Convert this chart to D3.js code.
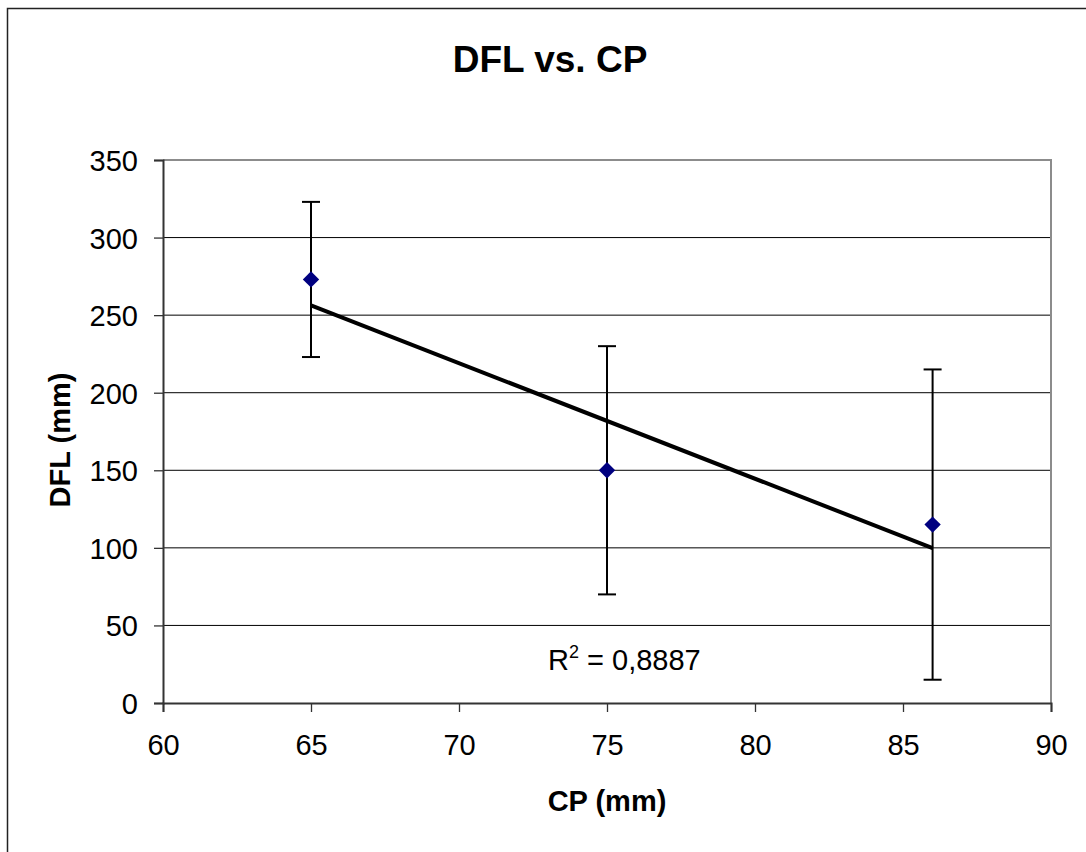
<!DOCTYPE html>
<html>
<head>
<meta charset="utf-8">
<script src="https://cdn.jsdelivr.net/npm/d3@7"></script>
<style>
  body { margin: 0; background: #fff; }
  text { font-family: "Liberation Sans", Arial, sans-serif; fill: #000; }
</style>
</head>
<body>
<svg id="chart" width="1086" height="852"></svg>
<script>
// data
const cp = [65, 75, 86];
const dfl = [273, 150, 115];
const errPlus = [50, 80, 100];
const errMinus = [50, 80, 100];
const xTicks = [60, 65, 70, 75, 80, 85, 90];
const yTicks = [0, 50, 100, 150, 200, 250, 300, 350];
const rSquaredLabel = "0,8887";

const svg = d3.select("#chart");

// outer chart frame (runs off the right/bottom edges)
svg.append("rect")
    .attr("x", 7.5).attr("y", 8.5)
    .attr("width", 1100).attr("height", 900)
    .attr("fill", "white")
    .attr("stroke", "#222").attr("stroke-width", 1.5);

const plotL = 163, plotR = 1051, plotT = 160, plotB = 703;

const x = d3.scaleLinear().domain([60, 90]).range([plotL, plotR]);
const y = d3.scaleLinear().domain([0, 350]).range([plotB, plotT]);

// gridlines
svg.append("g")
    .selectAll("line")
    .data(yTicks.filter(d => d > 0 && d < 350))
    .enter()
    .append("line")
    .attr("x1", plotL).attr("x2", plotR)
    .attr("y1", d => y(d)).attr("y2", d => y(d))
    .attr("stroke", "#000").attr("stroke-width", 1);

// plot area border top/right (grey)
svg.append("path")
    .attr("d", `M${plotL},${plotT}H${plotR}V${plotB}`)
    .attr("fill", "none")
    .attr("stroke", "#8c8c8c").attr("stroke-width", 2);

// axes
const xAxis = svg.append("g")
    .attr("transform", `translate(0,${plotB})`)
    .call(d3.axisBottom(x).tickValues(xTicks).tickSize(9).tickPadding(22).tickFormat(d3.format("d")));
const yAxis = svg.append("g")
    .attr("transform", `translate(${plotL},0)`)
    .call(d3.axisLeft(y).tickValues(yTicks).tickSize(9).tickPadding(16).tickFormat(d3.format("d")));

[xAxis, yAxis].forEach(a => {
  a.select(".domain").attr("stroke", "#333").attr("stroke-width", 2);
  a.selectAll(".tick line").attr("stroke", "#333").attr("stroke-width", 1.3);
  a.selectAll(".tick text")
      .style("font-family", "Liberation Sans, Arial, sans-serif")
      .style("font-size", "29px").attr("fill", "#000");
});
yAxis.selectAll(".tick text").attr("dy", "0.36em");

// linear trendline (least squares from the data)
const mx = d3.mean(cp), my = d3.mean(dfl);
const sxy = d3.sum(cp, (c, i) => (c - mx) * (dfl[i] - my));
const sxx = d3.sum(cp, c => (c - mx) ** 2);
const slope = sxy / sxx, icpt = my - slope * mx;
const xMin = d3.min(cp), xMax = d3.max(cp);

svg.append("line")
    .attr("x1", x(xMin)).attr("y1", y(icpt + slope * xMin))
    .attr("x2", x(xMax)).attr("y2", y(icpt + slope * xMax))
    .attr("stroke", "#000").attr("stroke-width", 4);

// error bars
const pts = cp.map((c, i) => ({ c, v: dfl[i], hi: dfl[i] + errPlus[i], lo: dfl[i] - errMinus[i] }));
const eb = svg.append("g").attr("stroke", "#000").attr("stroke-width", 2);
eb.selectAll(".stem").data(pts).enter().append("line")
    .attr("x1", d => x(d.c)).attr("x2", d => x(d.c))
    .attr("y1", d => y(d.hi)).attr("y2", d => y(d.lo));
eb.selectAll(".capHi").data(pts).enter().append("line")
    .attr("x1", d => x(d.c) - 9).attr("x2", d => x(d.c) + 9)
    .attr("y1", d => y(d.hi)).attr("y2", d => y(d.hi));
eb.selectAll(".capLo").data(pts).enter().append("line")
    .attr("x1", d => x(d.c) - 9).attr("x2", d => x(d.c) + 9)
    .attr("y1", d => y(d.lo)).attr("y2", d => y(d.lo));

// markers
svg.selectAll(".point")
    .data(pts)
    .enter()
    .append("path")
    .attr("class", "point")
    .attr("d", d3.symbol(d3.symbolDiamond2, 170))
    .attr("transform", d => `translate(${x(d.c)},${y(d.v)})`)
    .attr("fill", "#000080");

// R^2 label
const rt = svg.append("text")
    .attr("x", 548).attr("y", 670)
    .style("font-size", "29px");
rt.append("tspan").text("R");
rt.append("tspan").attr("dy", -12).style("font-size", "18px").text("2");
rt.append("tspan").attr("dy", 12).text(" = " + rSquaredLabel);

// titles
svg.append("text")
    .attr("x", 550).attr("y", 72)
    .attr("text-anchor", "middle")
    .style("font-size", "37px").style("font-weight", "bold")
    .text("DFL vs. CP");

svg.append("text")
    .attr("x", (plotL + plotR) / 2).attr("y", 811)
    .attr("text-anchor", "middle")
    .style("font-size", "29px").style("font-weight", "bold")
    .text("CP (mm)");

svg.append("text")
    .attr("transform", `translate(70,440) rotate(-90)`)
    .attr("text-anchor", "middle")
    .style("font-size", "29px").style("font-weight", "bold")
    .text("DFL (mm)");
</script>
</body>
</html>
